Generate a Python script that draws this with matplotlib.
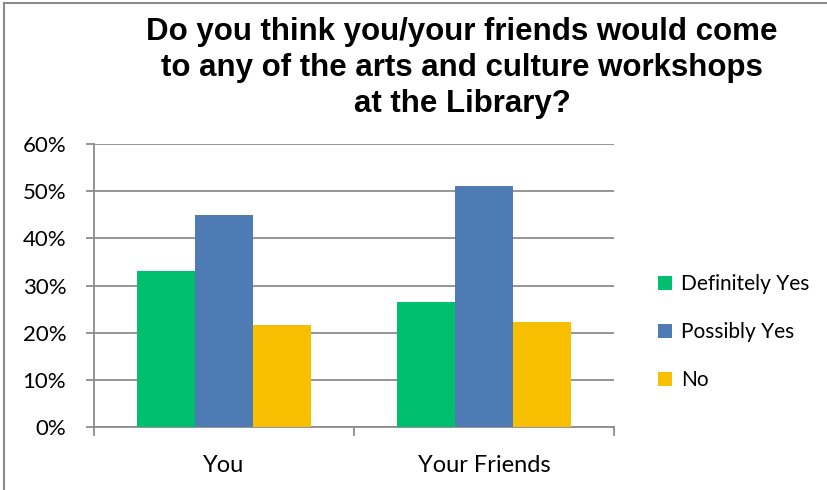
import matplotlib
matplotlib.use("Agg")
import matplotlib.pyplot as plt
from matplotlib.lines import Line2D
import numpy as np

categories = ["You", "Your Friends"]
series_names = ["Definitely Yes", "Possibly Yes", "No"]
definitely_yes = [33.0, 26.5]
possibly_yes = [45.0, 51.0]
no_answer = [21.7, 22.3]
y_ticks = [0, 10, 20, 30, 40, 50, 60]
y_tick_labels = ["0%", "10%", "20%", "30%", "40%", "50%", "60%"]
colors = ["#00BF6F", "#4F7BB4", "#F8BE00"]
title = "Do you think you/your friends would come\nto any of the arts and culture workshops\nat the Library?"

W, H = 827, 490
fig = plt.figure(figsize=(W / 100, H / 100), dpi=100)
fig.patch.set_facecolor("white")

# chart border (top and left edges visible)
border_color = "#8C8C8C"
fig.add_artist(Line2D([4 / W, 4 / W], [0, 1 - 3 / H], transform=fig.transFigure,
                      color=border_color, lw=1.5))
fig.add_artist(Line2D([4 / W, 1], [1 - 3 / H, 1 - 3 / H], transform=fig.transFigure,
                      color=border_color, lw=1.5))

ax_left, ax_right = 94 / W, 614 / W
ax_top, ax_bottom = 1 - 144 / H, 1 - 427 / H
ax = fig.add_axes([ax_left, ax_bottom, ax_right - ax_left, ax_top - ax_bottom])

x = np.arange(len(categories))
width = 0.222
series = [definitely_yes, possibly_yes, no_answer]
for i, (vals, name, c) in enumerate(zip(series, series_names, colors)):
    ax.bar(x + (i - 1) * width, vals, width, color=c, label=name, zorder=3,
           edgecolor="none")

ax.set_xlim(-0.5, 1.5)
ax.set_ylim(0, 60)
ax.set_yticks(y_ticks)
ax.set_yticklabels(y_tick_labels)
ax.set_xticks(x)
ax.set_xticklabels(categories)

grid_color = "#8C8C8C"
ax.yaxis.grid(True, color=grid_color, lw=1.3, zorder=0)
ax.set_axisbelow(True)
for s in ["top", "right"]:
    ax.spines[s].set_visible(False)
for s in ["left", "bottom"]:
    ax.spines[s].set_color(grid_color)
    ax.spines[s].set_linewidth(1.3)

# category separators on x-axis
ax.tick_params(axis="x", length=0, pad=20)
for xb in [-0.5, 0.5, 1.5]:
    ax.plot([xb, xb], [0, -1.6], color=grid_color, lw=1.3, clip_on=False, zorder=4)
ax.tick_params(axis="y", length=6, width=1.3, color=grid_color, direction="out", pad=14)

tick_font = "Lato"
for lbl in ax.get_yticklabels():
    lbl.set_fontfamily(tick_font)
    lbl.set_fontsize(16)
    lbl.set_color("black")
for lbl in ax.get_xticklabels():
    lbl.set_fontfamily(tick_font)
    lbl.set_fontsize(17)
    lbl.set_color("black")

fig.text(462 / W, 1 - 68 / H, title, ha="center", va="center",
         fontsize=22.5, fontweight="bold", family="Liberation Sans",
         linespacing=1.27)

leg = fig.legend(loc="center left", bbox_to_anchor=(658 / W, 1 - 332 / H),
                 frameon=False, prop={"family": tick_font, "size": 15},
                 handlelength=0.65, handleheight=0.65, handletextpad=0.45,
                 labelspacing=1.35, borderpad=0, borderaxespad=0)

fig.savefig("out.png", dpi=100)
